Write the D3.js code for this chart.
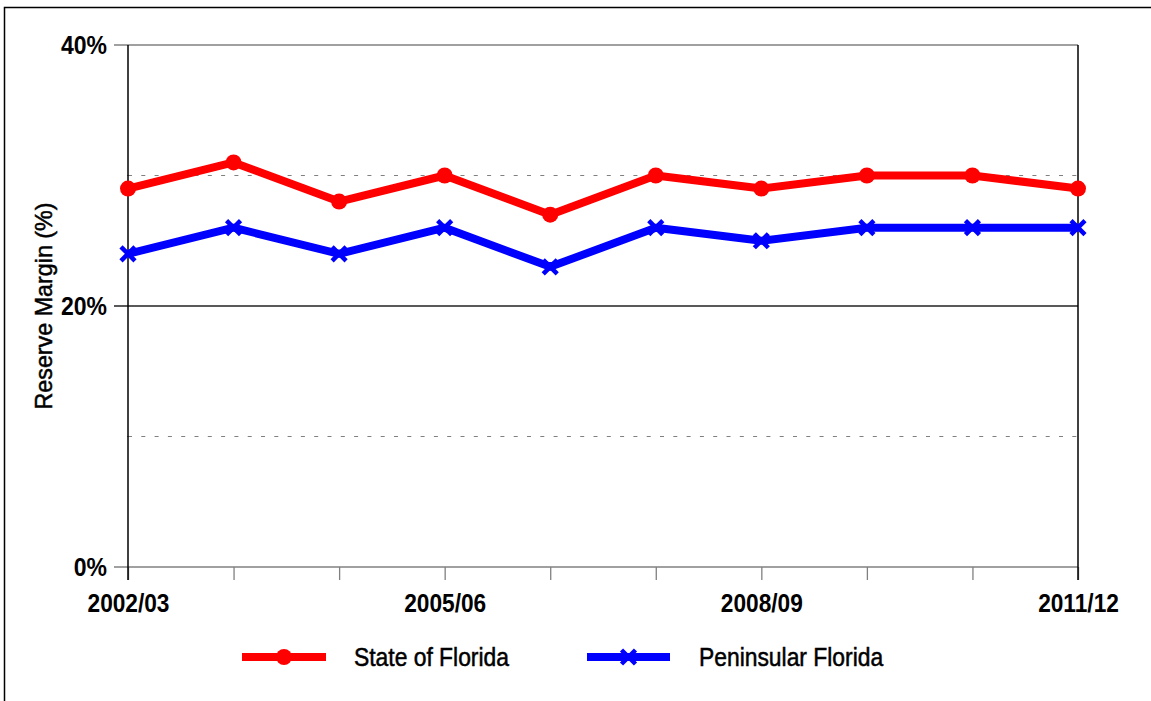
<!DOCTYPE html>
<html>
<head>
<meta charset="utf-8">
<script src="https://cdn.jsdelivr.net/npm/d3@7"></script>
<style>
  html, body { margin: 0; padding: 0; background: #fff; overflow: hidden; }
  svg { display: block; }
  text { font-family: "Liberation Sans", Arial, sans-serif; fill: #000; }
</style>
</head>
<body>
<svg id="chart" width="1151" height="701"></svg>
<script>
// Fiscal years on the horizontal axis
const categories = ["2002/03", "2003/04", "2004/05", "2005/06", "2006/07",
                    "2007/08", "2008/09", "2009/10", "2010/11", "2011/12"];
const labeledYears = ["2002/03", "2005/06", "2008/09", "2011/12"];

// Reserve margin (%) per year
const stateOfFlorida    = [29, 31, 28, 30, 27, 30, 29, 30, 30, 29];
const peninsularFlorida = [24, 26, 24, 26, 23, 26, 25, 26, 26, 26];

const yTicks = [0, 20, 40];
const dashedGrid = [10, 30];

const seriesNames = ["State of Florida", "Peninsular Florida"];

const svg = d3.select("#chart");

// frame around the figure
svg.append("rect")
  .attr("x", 4.5).attr("y", 7.5)
  .attr("width", 1160).attr("height", 720)
  .attr("fill", "none").attr("stroke", "#000").attr("stroke-width", 1.5);

const plotL = 128, plotR = 1078, plotT = 45, plotB = 567;

const x = d3.scalePoint().domain(categories).range([plotL, plotR]);
const y = d3.scaleLinear().domain([0, 40]).range([plotB, plotT]);

// narrows text to the width of the narrower print face
function squeeze(sel, f) {
  sel.each(function () {
    const w = this.getComputedTextLength();
    if (w > 0) {
      d3.select(this).attr("textLength", w * f).attr("lengthAdjust", "spacingAndGlyphs");
    }
  });
}

// dashed gridlines
svg.selectAll("line.dgrid").data(dashedGrid).join("line")
  .attr("class", "dgrid")
  .attr("x1", plotL).attr("x2", plotR)
  .attr("y1", d => y(d)).attr("y2", d => y(d))
  .attr("stroke", "#808080").attr("stroke-width", 1.2)
  .attr("stroke-dasharray", "4,9.3");

// small ticks on the axis at the dashed levels
svg.selectAll("line.mtick").data(dashedGrid).join("line")
  .attr("class", "mtick")
  .attr("x1", plotL - 1).attr("x2", plotL + 4)
  .attr("y1", d => y(d)).attr("y2", d => y(d))
  .attr("stroke", "#808080").attr("stroke-width", 1);

// horizontal lines at the labelled levels
svg.selectAll("line.sgrid").data(yTicks).join("line")
  .attr("class", "sgrid")
  .attr("x1", plotL - 14).attr("x2", plotR)
  .attr("y1", d => y(d)).attr("y2", d => y(d))
  .attr("stroke", d => d === 20 ? "#222" : "#808080")
  .attr("stroke-width", 1.3);

// bottom axis
const xAxis = svg.append("g")
  .attr("transform", `translate(0,${plotB})`)
  .call(d3.axisBottom(x).tickSize(13).tickSizeOuter(0)
        .tickFormat(d => labeledYears.includes(d) ? d : ""));
xAxis.select(".domain").remove();
xAxis.selectAll(".tick line").attr("stroke", "#808080").attr("stroke-width", 1.3);
xAxis.selectAll(".tick text")
  .attr("y", 45).attr("dy", null)
  .style("font-size", "25px").style("font-weight", "bold").attr("fill", "#000")
  .call(squeeze, 0.907);

// left axis labels
const yAxis = svg.append("g")
  .attr("transform", `translate(${plotL},0)`)
  .call(d3.axisLeft(y).tickValues(yTicks).tickSize(0).tickPadding(21)
        .tickFormat(d => d + "%"));
yAxis.select(".domain").remove();
yAxis.selectAll(".tick text")
  .attr("dy", 8.8)
  .style("font-size", "25px").style("font-weight", "bold").attr("fill", "#000")
  .call(squeeze, 0.92);

// left axis and right border
svg.append("line").attr("x1", plotL).attr("x2", plotL)
  .attr("y1", plotT).attr("y2", plotB + 13)
  .attr("stroke", "#000").attr("stroke-width", 1.5);
svg.append("line").attr("x1", plotR).attr("x2", plotR)
  .attr("y1", plotT).attr("y2", plotB + 13)
  .attr("stroke", "#000").attr("stroke-width", 1.5);

// y axis title
svg.append("text")
  .attr("transform", `translate(52,306) rotate(-90)`)
  .attr("text-anchor", "middle")
  .style("font-size", "24px")
  .attr("stroke", "#000").attr("stroke-width", 0.5)
  .text("Reserve Margin (%)")
  .call(squeeze, 0.97);

const line = d3.line().x((d, i) => x(categories[i])).y(d => y(d));

// State of Florida
svg.append("path").datum(stateOfFlorida)
  .attr("d", line).attr("fill", "none")
  .attr("stroke", "#ff0000").attr("stroke-width", 8).attr("stroke-linejoin", "round");
svg.selectAll("circle.sf").data(stateOfFlorida).join("circle")
  .attr("class", "sf")
  .attr("cx", (d, i) => x(categories[i])).attr("cy", d => y(d))
  .attr("r", 8).attr("fill", "#ff0000");

// Peninsular Florida
const xMark = s => `M${-s},${-s}L${s},${s}M${-s},${s}L${s},${-s}`;
svg.append("path").datum(peninsularFlorida)
  .attr("d", line).attr("fill", "none")
  .attr("stroke", "#0000ff").attr("stroke-width", 8).attr("stroke-linejoin", "round");
svg.selectAll("path.pf").data(peninsularFlorida).join("path")
  .attr("class", "pf")
  .attr("transform", (d, i) => `translate(${x(categories[i])},${y(d)})`)
  .attr("d", xMark(7)).attr("stroke", "#0000ff").attr("stroke-width", 4.5).attr("fill", "none");

// legend
const legendY = 657;
const legendItems = [
  { name: seriesNames[0], color: "#ff0000", x0: 242, x1: 326, tx: 354, mark: "circle" },
  { name: seriesNames[1], color: "#0000ff", x0: 587, x1: 670, tx: 699, mark: "x" }
];
legendItems.forEach(it => {
  svg.append("line").attr("x1", it.x0).attr("x2", it.x1)
    .attr("y1", legendY).attr("y2", legendY)
    .attr("stroke", it.color).attr("stroke-width", 8);
  const cx = (it.x0 + it.x1) / 2;
  if (it.mark === "circle") {
    svg.append("circle").attr("cx", cx).attr("cy", legendY).attr("r", 8).attr("fill", it.color);
  } else {
    svg.append("path").attr("transform", `translate(${cx},${legendY})`)
      .attr("d", xMark(7)).attr("stroke", it.color).attr("stroke-width", 4.5);
  }
  svg.append("text").attr("x", it.tx).attr("y", 665.5)
    .style("font-size", "25px")
    .attr("stroke", "#000").attr("stroke-width", 0.5)
    .text(it.name)
    .call(squeeze, 0.914);
});
</script>
</body>
</html>
